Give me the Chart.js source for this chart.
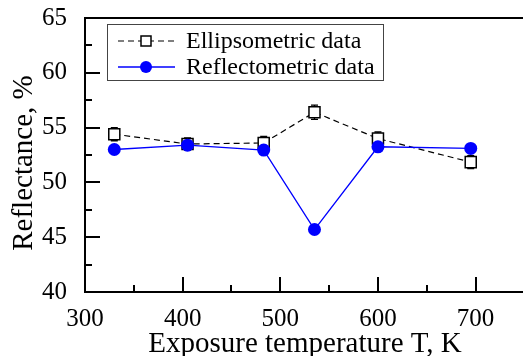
<!DOCTYPE html>
<html>
<head>
<meta charset="utf-8">
<script src="https://cdn.jsdelivr.net/npm/chart.js@4.4.0/dist/chart.umd.min.js"></script>
<style>
    body { margin: 0; background: #fff; }
    canvas { display: block; }
</style>
</head>
<body>
<canvas id="reflectanceChart" width="523" height="356"></canvas>
<script>
// Data
const temperatures = [330, 405, 483, 535, 600, 695];
const ellipsometric = [54.4, 53.5, 53.6, 56.4, 54.0, 51.85];
const ellipsometricErr = [0.6, 0.55, 0.6, 0.65, 0.6, 0.6];
const reflectometric = [53.0, 53.4, 52.95, 45.7, 53.25, 53.1];
const xTicks = [300, 400, 500, 600, 700];
const yTicks = [40, 45, 50, 55, 60, 65];
const seriesNames = ['Ellipsometric data', 'Reflectometric data'];

const SERIF = "'Liberation Serif', 'Times New Roman', serif";

const toPoints = (xs, ys) => xs.map((x, i) => ({ x: x, y: ys[i] }));

// error bars, inward ticks, frame lines, titles and legend
const framePlugin = {
    id: 'frame',
    beforeDatasetsDraw(chart) {
        const ctx = chart.ctx;
        const xs = chart.scales.x;
        const ys = chart.scales.y;
        ctx.save();
        ctx.strokeStyle = '#000';
        ctx.lineWidth = 1.3;
        temperatures.forEach((t, i) => {
            const px = xs.getPixelForValue(t);
            const top = ys.getPixelForValue(ellipsometric[i] + ellipsometricErr[i]);
            const bot = ys.getPixelForValue(ellipsometric[i] - ellipsometricErr[i]);
            ctx.beginPath();
            ctx.moveTo(px, top);
            ctx.lineTo(px, bot);
            ctx.moveTo(px - 3.5, top);
            ctx.lineTo(px + 3.5, top);
            ctx.moveTo(px - 3.5, bot);
            ctx.lineTo(px + 3.5, bot);
            ctx.stroke();
        });
        ctx.restore();
    },
    afterDraw(chart) {
        const ctx = chart.ctx;
        const area = chart.chartArea;
        const xs = chart.scales.x;
        const ys = chart.scales.y;
        ctx.save();
        ctx.strokeStyle = '#000';
        ctx.lineWidth = 2;
        // x ticks every 50, long at every 100
        for (let v = 350; v < 750; v += 50) {
            const px = Math.round(xs.getPixelForValue(v));
            if (px > chart.width) continue;
            const len = v % 100 === 0 ? 15 : 7;
            ctx.beginPath();
            ctx.moveTo(px, area.bottom);
            ctx.lineTo(px, area.bottom - len);
            ctx.stroke();
        }
        // y ticks every 2.5, long at every 5
        for (let v = 42.5; v <= 65; v += 2.5) {
            const py = Math.round(ys.getPixelForValue(v));
            const len = v % 5 === 0 ? 15 : 7;
            ctx.beginPath();
            ctx.moveTo(area.left, py);
            ctx.lineTo(area.left + len, py);
            ctx.stroke();
        }
        // top frame line, and both axes running to the image edge
        ctx.beginPath();
        ctx.moveTo(area.left, area.top);
        ctx.lineTo(chart.width, area.top);
        ctx.moveTo(area.right, area.bottom);
        ctx.lineTo(chart.width, area.bottom);
        ctx.stroke();

        // axis titles
        ctx.fillStyle = '#000';
        ctx.font = '29px ' + SERIF;
        ctx.textAlign = 'center';
        ctx.textBaseline = 'alphabetic';
        ctx.fillText('Exposure temperature T, K', 305, 352);
        ctx.translate(32, 163);
        ctx.rotate(-Math.PI / 2);
        ctx.fillText('Reflectance, %', 0, 0);
        ctx.restore();

        // legend
        const ds = chart.data.datasets;
        ctx.save();
        ctx.strokeStyle = '#444';
        ctx.lineWidth = 1;
        ctx.strokeRect(107.5, 24.5, 276, 56);
        const rows = [41, 67];
        rows.forEach((ry, i) => {
            const d = ds[i];
            ctx.strokeStyle = d.borderColor;
            ctx.lineWidth = d.borderWidth;
            ctx.setLineDash(d.borderDash || []);
            ctx.beginPath();
            ctx.moveTo(118, ry);
            ctx.lineTo(175, ry);
            ctx.stroke();
            ctx.setLineDash([]);
            if (i === 0) {
                ctx.fillStyle = '#fff';
                ctx.strokeStyle = '#000';
                ctx.lineWidth = 1.5;
                ctx.fillRect(141, ry - 5, 10, 10);
                ctx.strokeRect(141, ry - 5, 10, 10);
            } else {
                ctx.fillStyle = d.pointBackgroundColor;
                ctx.beginPath();
                ctx.arc(146, ry, 6, 0, Math.PI * 2);
                ctx.fill();
            }
            ctx.fillStyle = '#000';
            ctx.font = '24px ' + SERIF;
            ctx.textAlign = 'left';
            ctx.textBaseline = 'middle';
            ctx.fillText(seriesNames[i], 186, ry + 1);
        });
        ctx.restore();
    }
};

new Chart(document.getElementById('reflectanceChart'), {
    type: 'line',
    data: {
        datasets: [{
            label: seriesNames[0],
            data: toPoints(temperatures, ellipsometric),
            borderColor: '#000',
            borderWidth: 1.2,
            borderDash: [6, 4],
            pointStyle: 'rect',
            pointRadius: 7.8,
            pointBackgroundColor: '#fff',
            pointBorderColor: '#000',
            pointBorderWidth: 1.5,
            order: 2
        }, {
            label: seriesNames[1],
            data: toPoints(temperatures, reflectometric),
            borderColor: '#0000ff',
            borderWidth: 1.3,
            pointStyle: 'circle',
            pointRadius: 6.5,
            pointBackgroundColor: '#0000ff',
            pointBorderColor: '#0000ff',
            pointBorderWidth: 0,
            order: 1
        }]
    },
    options: {
        responsive: false,
        animation: false,
        layout: { padding: { top: 18, right: 0, left: 0, bottom: 0 } },
        plugins: {
            legend: { display: false },
            tooltip: { enabled: false }
        },
        scales: {
            x: {
                type: 'linear',
                min: 300,
                max: 739,
                afterBuildTicks: scale => { scale.ticks = xTicks.map(v => ({ value: v })); },
                afterFit: scale => {
                    scale.height = 64;
                    scale.paddingLeft = 0;
                    scale.paddingRight = 0;
                },
                grid: { display: false, drawTicks: false },
                border: { display: true, color: '#000', width: 2 },
                ticks: {
                    color: '#000',
                    font: { family: SERIF, size: 25 },
                    padding: 12,
                    maxRotation: 0
                }
            },
            y: {
                min: 40,
                max: 65,
                afterBuildTicks: scale => { scale.ticks = yTicks.map(v => ({ value: v })); },
                afterFit: scale => {
                    scale.width = 85;
                    scale.paddingTop = 0;
                    scale.paddingBottom = 0;
                },
                grid: { display: false, drawTicks: false },
                border: { display: true, color: '#000', width: 2 },
                ticks: {
                    color: '#000',
                    font: { family: SERIF, size: 25 },
                    padding: 18
                }
            }
        }
    },
    plugins: [framePlugin]
});
</script>
</body>
</html>
